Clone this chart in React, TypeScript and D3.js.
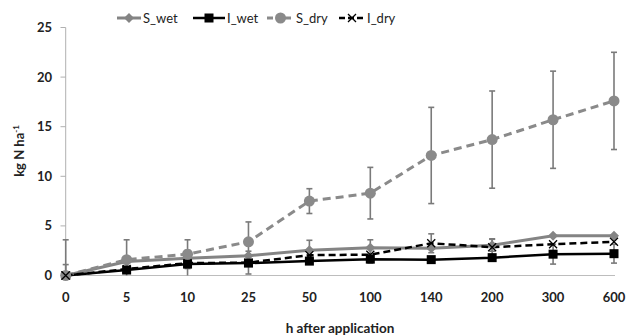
import React from "react";
import * as d3 from "d3";

const categories = ["0", "5", "10", "25", "50", "100", "140", "200", "300", "600"];
const yTicks = [0, 5, 10, 15, 20, 25];

const sWet = [0, 1.4, 1.75, 2.0, 2.55, 2.8, 2.75, 3.05, 4.0, 4.0];
const sWetErr = [3.6, 0, 0, 0, 1.0, 0.8, 0, 0.6, 0, 0];
const iWet = [0, 0.55, 1.15, 1.25, 1.45, 1.65, 1.6, 1.8, 2.15, 2.2];
const iWetErr = [0, 0, 0, 0, 0, 0.4, 0, 0, 1.0, 0.95];
const sDry = [0, 1.6, 2.15, 3.4, 7.5, 8.3, 12.1, 13.7, 15.7, 17.6];
const sDryErr = [0, 2.0, 1.45, 2.0, 1.25, 2.6, 4.85, 4.9, 4.9, 4.9];
const iDry = [0, 0.65, 1.25, 1.3, 2.05, 2.1, 3.25, 2.85, 3.15, 3.4];
const iDryErr = [1.1, 0, 1.3, 1.15, 0, 0, 0.95, 0.85, 0, 0];

const W = 630;
const H = 336;
const font = "Lato, 'Open Sans', sans-serif";

export default function App() {
  const x = d3.scalePoint<string>().domain(categories).range([65.7, 614]).padding(0);
  const y = d3.scaleLinear().domain([0, 25]).range([275.5, 27.5]);

  const series = [
    { name: "S_wet", vals: sWet, err: sWetErr, color: "#848484", width: 3, dash: "", marker: "diamond" },
    { name: "I_wet", vals: iWet, err: iWetErr, color: "#000000", width: 2.5, dash: "", marker: "square" },
    { name: "S_dry", vals: sDry, err: sDryErr, color: "#8a8a8a", width: 3, dash: "8,5", marker: "circle" },
    { name: "I_dry", vals: iDry, err: iDryErr, color: "#000000", width: 2.5, dash: "7,4", marker: "x" },
  ];

  const line = d3
    .line<number>()
    .x((_, i) => x(categories[i]) as number)
    .y((d) => y(d));

  const marker = (type: string, cx: number, cy: number, color: string, key: string) => {
    if (type === "diamond")
      return (
        <path key={key} d={`M${cx},${cy - 5}L${cx + 5},${cy}L${cx},${cy + 5}L${cx - 5},${cy}Z`} fill={color} />
      );
    if (type === "square")
      return <rect key={key} x={cx - 4.5} y={cy - 4.5} width={9} height={9} fill={color} />;
    if (type === "circle") return <circle key={key} cx={cx} cy={cy} r={5.5} fill={color} />;
    return (
      <path
        key={key}
        d={`M${cx - 4},${cy - 4}L${cx + 4},${cy + 4}M${cx - 4},${cy + 4}L${cx + 4},${cy - 4}`}
        stroke={color}
        strokeWidth={1.3}
        fill="none"
      />
    );
  };

  const legendItems = [
    { s: series[0], x0: 117, tx: 143 },
    { s: series[1], x0: 193, tx: 227 },
    { s: series[2], x0: 267, tx: 296 },
    { s: series[3], x0: 339, tx: 367 },
  ];

  return (
    <svg width={W} height={H} style={{ position: "absolute", left: 0, top: 0 }}>
      <rect width={W} height={H} fill="#fff" />
      {/* axes */}
      <line x1={65.7} x2={65.7} y1={y(25)} y2={y(0)} stroke="#b0b0b0" strokeWidth={1} />
      <line x1={65.7} x2={615} y1={y(0)} y2={y(0)} stroke="#bdbdbd" strokeWidth={1.2} />
      {yTicks.map((t) => (
        <g key={t}>
          <line x1={60.5} x2={65.7} y1={y(t)} y2={y(t)} stroke="#b0b0b0" />
          <text
            x={52}
            y={y(t)}
            dy="0.35em"
            textAnchor="end"
            fontFamily={font}
            fontWeight="bold"
            fontSize={13}
            fill="#222"
          >
            {t}
          </text>
        </g>
      ))}
      {categories.map((c) => (
        <text
          key={c}
          x={x(c)}
          y={297}
          dy="0.35em"
          textAnchor="middle"
          fontFamily={font}
          fontWeight="bold"
          fontSize={13}
          fill="#222"
        >
          {c}
        </text>
      ))}
      <text
        x={340}
        y={328}
        dy="0.35em"
        textAnchor="middle"
        fontFamily={font}
        fontWeight="bold"
        fontSize={13.5}
        fill="#222"
      >
        h after application
      </text>
      <text
        transform={`translate(19,151) rotate(-90)`}
        textAnchor="middle"
        fontFamily={font}
        fontWeight="bold"
        fontSize={13}
        fill="#222"
        dy="0.35em"
      >
        kg N ha<tspan dy="-5" fontSize={8}>-1</tspan>
      </text>
      {/* error bars */}
      {series.map((s) =>
        s.vals.map((v, i) => {
          const e = s.err[i];
          if (!e) return null;
          const cx = x(categories[i]) as number;
          const top = y(v + e);
          const bot = y(Math.max(v - e, 0));
          return (
            <g key={s.name + "e" + i} stroke="#7a7a7a" strokeWidth={1.6}>
              <line x1={cx} x2={cx} y1={top} y2={bot} />
              <line x1={cx - 3} x2={cx + 3} y1={top} y2={top} />
              {v - e > 0 && <line x1={cx - 3} x2={cx + 3} y1={bot} y2={bot} />}
            </g>
          );
        })
      )}
      {/* lines */}
      {series.map((s) => (
        <path
          key={s.name}
          d={line(s.vals) as string}
          fill="none"
          stroke={s.color}
          strokeWidth={s.width}
          strokeDasharray={s.dash || undefined}
        />
      ))}
      {series.map((s) =>
        s.vals.map((v, i) => marker(s.marker, x(categories[i]) as number, y(v), s.color, s.name + "m" + i))
      )}
      {/* legend */}
      {legendItems.map(({ s, x0, tx }) => (
        <g key={"lg" + s.name}>
          <line
            x1={x0}
            x2={tx - 2}
            y1={18}
            y2={18}
            stroke={s.color}
            strokeWidth={s.width}
            strokeDasharray={s.dash ? "6,3" : undefined}
          />
          {marker(s.marker, (x0 + tx - 2) / 2, 18, s.color, "lgm" + s.name)}
          <text x={tx} y={18} dy="0.35em" fontFamily={font} fontSize={13} fill="#222">
            {s.name}
          </text>
        </g>
      ))}
    </svg>
  );
}
